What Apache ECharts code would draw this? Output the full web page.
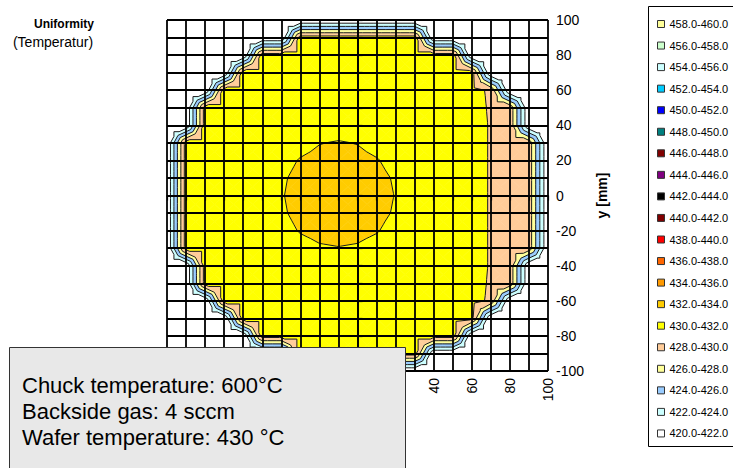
<!DOCTYPE html>
<html>
<head>
<meta charset="utf-8">
<script src="https://cdn.jsdelivr.net/npm/echarts@6/dist/echarts.min.js"></script>
<style>
html,body{margin:0;padding:0;background:#fff;}
#chart{width:733px;height:468px;}
</style>
</head>
<body>
<div id="chart"></div>
<script>
// Measurement positions on the wafer [mm]
const xPositions = [-100,-90,-80,-70,-60,-50,-40,-30,-20,-10,0,10,20,30,40,50,60,70,80,90,100];
const yPositions = [100,90,80,70,60,50,40,30,20,10,0,-10,-20,-30,-40,-50,-60,-70,-80,-90,-100];

// Temperature [°C] per row (top row y=100 first), columns x=-100..100
const temperatures = [
  [420,420,420,420,420,420,420,420,420,420,420,420,420,420,420,420,420,420,420,420,420],
  [420,420,420,420,420,420,420,431,431,431,431,431,431,431,420,420,420,420,420,420,420],
  [420,420,420,420,420,431,431,431,431,431,431,431,431,431,431,431,420,420,420,420,420],
  [420,420,420,420,431,431,431,431,431,431,431,431,431,431,431,431,430.6,420,420,420,420],
  [420,420,420,431,431,431,431,431,431,431,431,431,431,431,431,431,430.8,429.6,420,420,420],
  [420,420,431,431,431,431,431,431,431,431,431,431,431,431,431,431,431,429.7,429.5,420,420],
  [420,420,431,431,431,431,431,431,431.2,431.3,431.2,431,431,431,431,431,431,429.8,429.5,420,420],
  [420,431,431,431,431,431,431.15,431.5,431.95,432.1,431.95,431.5,431.15,431,431,431,431,429.8,429.5,429.3,420],
  [420,431,431,431,431,431.05,431.5,432.1,432.4,432.5,432.4,432.1,431.5,431.05,431,431,431,429.8,429.5,429.3,420],
  [420,431,431,431,431,431.2,431.8,432.4,432.7,432.8,432.7,432.4,431.85,431.2,431,431,431,429.8,429.5,429.3,420],
  [420,431,431,431,431,431.3,431.9,432.5,432.8,432.9,432.8,432.5,431.95,431.3,431,431,431,429.8,429.5,429.3,420],
  [420,431,431,431,431,431.2,431.8,432.4,432.7,432.8,432.7,432.4,431.85,431.2,431,431,431,429.8,429.5,429.3,420],
  [420,431,431,431,431,431.05,431.5,432.1,432.4,432.5,432.4,432.1,431.5,431.05,431,431,431,429.8,429.5,429.3,420],
  [420,431,431,431,431,431,431.1,431.5,431.85,431.95,431.85,431.5,431.1,431,431,431,431,429.8,429.5,429.3,420],
  [420,420,431,431,431,431,431,431,431.15,431.25,431.15,431,431,431,431,431,431,429.8,429.5,420,420],
  [420,420,431,431,431,431,431,431,431,431,431,431,431,431,431,431,431,429.7,429.5,420,420],
  [420,420,420,431,431,431,431,431,431,431,431,431,431,431,431,431,430.8,429.6,420,420,420],
  [420,420,420,420,431,431,431,431,431,431,431,431,431,431,431,431,430.4,420,420,420,420],
  [420,420,420,420,420,431,431,431,431,431,431,431,431,431,431,431,420,420,420,420,420],
  [420,420,420,420,420,420,420,431,431,431,431,431,431,431,420,420,420,420,420,420,420],
  [420,420,420,420,420,420,420,420,420,420,420,420,420,420,420,420,420,420,420,420,420]
];

// Colour bands (lower bound, 2 °C wide), listed top to bottom as in the key
const bandLows = [458,456,454,452,450,448,446,444,442,440,438,436,434,432,430,428,426,424,422,420];
const bandColors = ['#ffff99','#ccffcc','#ccffff','#00ccff','#0000ff','#008080','#800000','#800080','#000000','#800000',
                    '#ff0000','#ff6600','#ff9900','#ffcc00','#ffff00','#ffcc99','#ffff99','#99ccff','#ccffff','#ffffff'];
const bandWidth = 2;

const noteLines = ['Chuck temperature: 600°C', 'Backside gas: 4 sccm', 'Wafer temperature: 430 °C'];

const FONT = 'Liberation Sans, Arial, sans-serif';

// ---- split each cell into four triangles around its centre and clip per band ----
function clipPoly(poly, level, keepAbove) {
  const out = [];
  for (let i = 0; i < poly.length; i++) {
    const a = poly[i], b = poly[(i + 1) % poly.length];
    const ina = keepAbove ? a[2] >= level : a[2] <= level;
    const inb = keepAbove ? b[2] >= level : b[2] <= level;
    if (ina) out.push(a);
    if (ina !== inb) {
      const t = (level - a[2]) / (b[2] - a[2]);
      out.push([a[0] + t * (b[0] - a[0]), a[1] + t * (b[1] - a[1]), level]);
    }
  }
  return out;
}

const triangles = [];
for (let r = 0; r < yPositions.length - 1; r++) {
  for (let c = 0; c < xPositions.length - 1; c++) {
    const p00 = [xPositions[c], yPositions[r], temperatures[r][c]];
    const p10 = [xPositions[c + 1], yPositions[r], temperatures[r][c + 1]];
    const p11 = [xPositions[c + 1], yPositions[r + 1], temperatures[r + 1][c + 1]];
    const p01 = [xPositions[c], yPositions[r + 1], temperatures[r + 1][c]];
    const mid = [(p00[0] + p10[0]) / 2, (p00[1] + p01[1]) / 2, (p00[2] + p10[2] + p11[2] + p01[2]) / 4];
    triangles.push([p00, p10, mid], [p10, p11, mid], [p11, p01, mid], [p01, p00, mid]);
  }
}

const bandPolys = bandLows.map(lo => {
  const list = [];
  triangles.forEach(tri => {
    let poly = clipPoly(tri, lo, true);
    if (poly.length >= 3) poly = clipPoly(poly, lo + bandWidth, false);
    if (poly.length >= 3) list.push(poly.map(p => [p[0], p[1]]));
  });
  return list;
});

// contour segments at each band boundary
const contourSegs = [];
bandLows.forEach(lo => {
  if (lo === 420) return;
  triangles.forEach(tri => {
    const pts = [];
    for (let i = 0; i < 3; i++) {
      const a = tri[i], b = tri[(i + 1) % 3];
      if ((a[2] - lo) * (b[2] - lo) < 0) {
        const t = (lo - a[2]) / (b[2] - a[2]);
        pts.push([a[0] + t * (b[0] - a[0]), a[1] + t * (b[1] - a[1])]);
      }
    }
    if (pts.length === 2) contourSegs.push(pts);
  });
});

const bandNames = bandLows.map(lo => lo.toFixed(1) + '-' + (lo + bandWidth).toFixed(1));

const bandSeries = bandLows.map((lo, k) => ({
  type: 'custom',
  name: bandNames[k],
  coordinateSystem: 'cartesian2d',
  silent: true,
  z: 2,
  itemStyle: { color: bandColors[k] },
  data: bandPolys[k].map(p => p[0]),
  renderItem: function (params, api) {
    const poly = bandPolys[k][params.dataIndex];
    return {
      type: 'polygon',
      shape: { points: poly.map(q => api.coord(q)) },
      style: { fill: bandColors[k], stroke: bandColors[k], lineWidth: 0.6 }
    };
  }
}));

const contourSeries = {
  type: 'custom',
  coordinateSystem: 'cartesian2d',
  silent: true,
  z: 3,
  data: contourSegs.map(s => s[0]),
  renderItem: function (params, api) {
    const s = contourSegs[params.dataIndex];
    const a = api.coord(s[0]), b = api.coord(s[1]);
    return {
      type: 'line',
      shape: { x1: a[0], y1: a[1], x2: b[0], y2: b[1] },
      style: { stroke: '#1a1a1a', lineWidth: 1 }
    };
  }
};

const chart = echarts.init(document.getElementById('chart'), null, { renderer: 'svg' });

const axisCommon = {
  type: 'value',
  min: -100,
  max: 100,
  interval: 10,
  z: 10,
  axisLine: { show: true, lineStyle: { color: '#000', width: 1.6 } },
  axisTick: { show: true, length: 5, lineStyle: { color: '#000', width: 1.2 } },
  splitLine: { show: true, lineStyle: { color: '#000', width: 1.8 } },
  axisLabel: {
    color: '#000',
    fontSize: 14,
    fontFamily: FONT,
    formatter: v => (v % 20 === 0 ? String(v) : '')
  }
};

chart.setOption({
  animation: false,
  backgroundColor: '#ffffff',
  grid: { left: 167, top: 20, width: 381, height: 351 },
  xAxis: Object.assign({}, axisCommon, {
    position: 'bottom',
    axisLabel: Object.assign({}, axisCommon.axisLabel, { rotate: 90, margin: 7 })
  }),
  yAxis: Object.assign({}, axisCommon, {
    position: 'right',
    name: 'y [mm]',
    nameLocation: 'middle',
    nameGap: 29,
    nameRotate: 90,
    nameTextStyle: { color: '#000', fontSize: 14, fontWeight: 'bold', fontFamily: FONT },
    axisLabel: Object.assign({}, axisCommon.axisLabel, { margin: 8 })
  }),
  legend: {
    orient: 'vertical',
    left: 652,
    top: 13,
    data: bandNames,
    icon: 'rect',
    itemWidth: 7,
    itemHeight: 7,
    itemGap: 9.55,
    selectedMode: false,
    itemStyle: { borderColor: '#333', borderWidth: 1 },
    textStyle: { fontSize: 11, fontFamily: FONT, color: '#000', lineHeight: 12 }
  },
  graphic: [
    { type: 'rect', x: 648.5, y: 6.5, z: -1, shape: { width: 100, height: 440 },
      style: { fill: '#fff', stroke: '#000', lineWidth: 1 } },
    { type: 'text', x: 64, y: 24, style: { text: 'Uniformity', font: 'bold 12px ' + FONT, fill: '#000', align: 'center', verticalAlign: 'middle' } },
    { type: 'text', x: 53, y: 42, style: { text: '(Temperatur)', font: '14px ' + FONT, fill: '#000', align: 'center', verticalAlign: 'middle' } },
    { type: 'rect', x: 9.5, y: 347.5, z: 100, shape: { width: 396, height: 140 },
      style: { fill: '#e8e8e8', stroke: '#333', lineWidth: 1 } },
    ...noteLines.map((t, i) => ({
      type: 'text', x: 22, y: 385 + i * 26, z: 101,
      style: { text: t, font: '22px ' + FONT, fill: '#000', verticalAlign: 'middle' }
    }))
  ],
  series: [...bandSeries, contourSeries]
});
</script>
</body>
</html>
